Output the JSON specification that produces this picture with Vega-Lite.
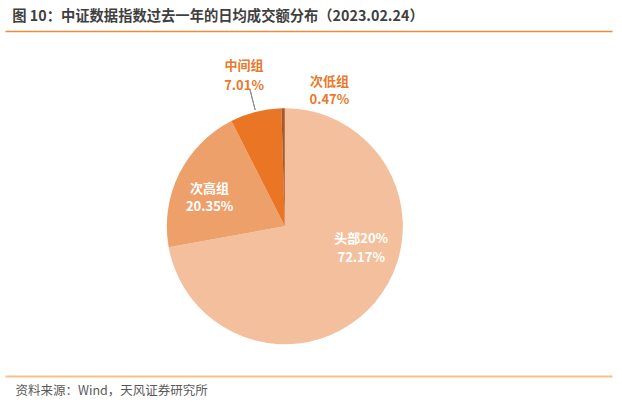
{
  "$schema": "https://vega.github.io/schema/vega-lite/v6.json",
  "width": 622,
  "height": 407,
  "autosize": {"type": "fit", "contains": "padding"},
  "padding": {"left": 2, "right": 10, "top": 9, "bottom": 10},
  "background": "white",
  "config": {"view": {"stroke": null}, "font": "Noto Sans CJK SC"},
  "title": {
    "text": "图 10：中证数据指数过去一年的日均成交额分布（2023.02.24）",
    "anchor": "start",
    "dx": 10,
    "fontSize": 14.3,
    "fontWeight": "bold",
    "color": "#3f3f3f",
    "offset": 7
  },
  "data": {
    "values": [
      {"group": "头部20%", "share": 72.17, "ord": 1, "label": ["头部20%", "72.17%"]},
      {"group": "次高组", "share": 20.35, "ord": 2, "label": ["次高组", "20.35%"]},
      {"group": "中间组", "share": 7.01, "ord": 3, "label": ["中间组", "7.01%"]},
      {"group": "次低组", "share": 0.47, "ord": 4, "label": ["次低组", "0.47%"]}
    ]
  },
  "resolve": {"scale": {"x": "independent"}},
  "layer": [
    {
      "mark": {"type": "point", "opacity": 0},
      "encoding": {
        "x": {"datum": 0, "type": "quantitative", "scale": {"domain": [0, 1]},
          "axis": {"orient": "top", "domainColor": "#EE8A3B", "domainWidth": 1.5, "ticks": false, "labels": false, "grid": false, "title": null}},
        "y": {"datum": 0.5, "type": "quantitative", "scale": {"domain": [0, 1]}, "axis": null}
      }
    },
    {
      "mark": {"type": "arc", "radius": 118},
      "encoding": {
        "theta": {"field": "share", "type": "quantitative", "stack": true},
        "order": {"field": "ord", "type": "quantitative"},
        "color": {"field": "group", "type": "nominal",
          "scale": {"domain": ["头部20%", "次高组", "中间组", "次低组"], "range": ["#F4BF9C", "#EEA06B", "#EA7525", "#A65A2B"]},
          "legend": null},
        "x": {"datum": 0.461, "type": "quantitative", "scale": {"domain": [0, 1]},
          "axis": {"orient": "bottom", "domainColor": "#F8BE8E", "domainWidth": 2, "ticks": false, "labels": false, "grid": false,
            "title": "资料来源：Wind，天风证券研究所", "titleAnchor": "start", "titleAlign": "left", "titleFontWeight": "normal",
            "titleFontSize": 12.5, "titleColor": "#595959", "titlePadding": 8, "titleX": 10}},
        "y": {"datum": 0.434, "type": "quantitative", "scale": {"domain": [0, 1]}, "axis": null}
      }
    },
    {
      "mark": {"type": "arc", "filled": false, "stroke": "#8c8c8c", "strokeWidth": 1, "radius": 141, "radius2": 120, "padAngle": 0.6},
      "encoding": {
        "theta": {"field": "share", "type": "quantitative", "stack": true},
        "order": {"field": "ord", "type": "quantitative"},
        "strokeOpacity": {"condition": {"test": "datum.group === '中间组'", "value": 1}, "value": 0},
        "x": {"datum": 0.461, "type": "quantitative", "scale": {"domain": [0, 1]}, "axis": null},
        "y": {"datum": 0.434, "type": "quantitative", "scale": {"domain": [0, 1]}, "axis": null}
      }
    },
    {
      "mark": {"type": "text", "radius": 80, "dx": 15, "dy": -39, "fontSize": 13, "fontWeight": "bold", "fill": "white", "lineHeight": 19, "align": "center", "baseline": "middle"},
      "encoding": {
        "theta": {"field": "share", "type": "quantitative", "stack": true},
        "order": {"field": "ord", "type": "quantitative"},
        "text": {"condition": {"test": "datum.group === '头部20%'", "field": "label"}, "value": ""},
        "x": {"datum": 0.461, "type": "quantitative", "scale": {"domain": [0, 1]}, "axis": null},
        "y": {"datum": 0.434, "type": "quantitative", "scale": {"domain": [0, 1]}, "axis": null}
      }
    },
    {
      "mark": {"type": "text", "radius": 84, "fontSize": 13, "fontWeight": "bold", "fill": "white", "lineHeight": 18, "align": "center", "baseline": "middle"},
      "encoding": {
        "theta": {"field": "share", "type": "quantitative", "stack": true},
        "order": {"field": "ord", "type": "quantitative"},
        "text": {"condition": {"test": "datum.group === '次高组'", "field": "label"}, "value": ""},
        "x": {"datum": 0.461, "type": "quantitative", "scale": {"domain": [0, 1]}, "axis": null},
        "y": {"datum": 0.434, "type": "quantitative", "scale": {"domain": [0, 1]}, "axis": null}
      }
    },
    {
      "mark": {"type": "text", "radius": 165, "fontSize": 13, "fontWeight": "bold", "fill": "#E8782C", "lineHeight": 20, "align": "center", "baseline": "middle"},
      "encoding": {
        "theta": {"field": "share", "type": "quantitative", "stack": true},
        "order": {"field": "ord", "type": "quantitative"},
        "text": {"condition": {"test": "datum.group === '中间组'", "field": "label"}, "value": ""},
        "x": {"datum": 0.461, "type": "quantitative", "scale": {"domain": [0, 1]}, "axis": null},
        "y": {"datum": 0.434, "type": "quantitative", "scale": {"domain": [0, 1]}, "axis": null}
      }
    },
    {
      "mark": {"type": "text", "radius": 165, "dx": 47, "dy": 21, "fontSize": 13, "fontWeight": "bold", "fill": "#E8782C", "lineHeight": 18, "align": "center", "baseline": "middle"},
      "encoding": {
        "theta": {"field": "share", "type": "quantitative", "stack": true},
        "order": {"field": "ord", "type": "quantitative"},
        "text": {"condition": {"test": "datum.group === '次低组'", "field": "label"}, "value": ""},
        "x": {"datum": 0.461, "type": "quantitative", "scale": {"domain": [0, 1]}, "axis": null},
        "y": {"datum": 0.434, "type": "quantitative", "scale": {"domain": [0, 1]}, "axis": null}
      }
    }
  ]
}
